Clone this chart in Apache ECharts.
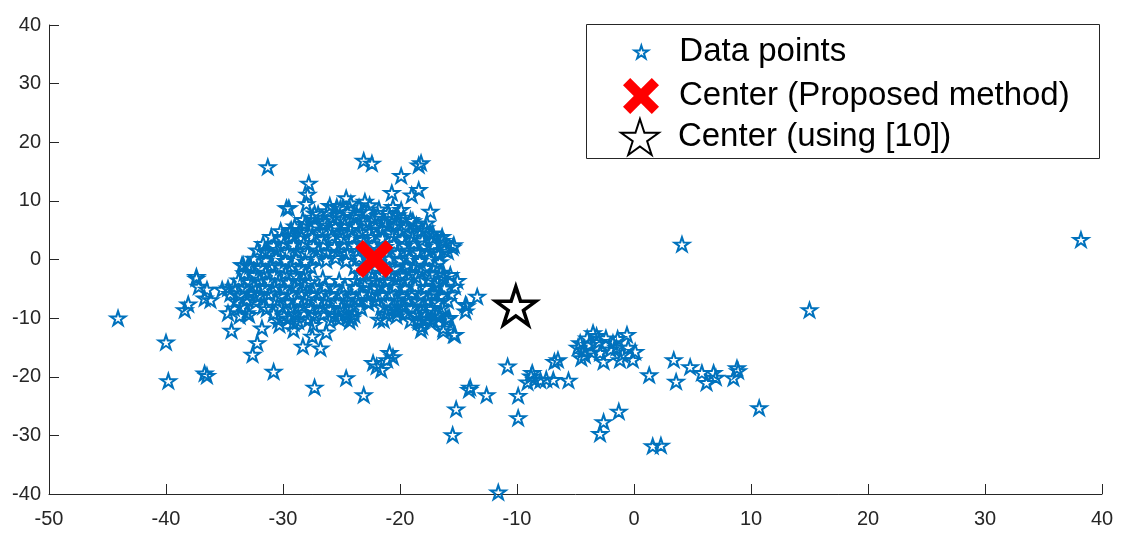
<!DOCTYPE html>
<html>
<head>
<meta charset="utf-8">
<script src="https://cdn.jsdelivr.net/npm/echarts@6/dist/echarts.min.js"></script>
<style>
  html, body { margin: 0; padding: 0; background: #fff; }
  #chart { width: 1128px; height: 538px; }
</style>
</head>
<body>
<div id="chart"></div>
<script>
// axis ranges / ticks
const xRange = [-50, 40];
const yRange = [-40, 40];
const tickStep = 10;

const seriesNames = ['Data points', 'Center (Proposed method)', 'Center (using [10])'];

// the two centers
const centerProposed = [[-22.2, 0.1]];
const centerRef = [[-10.1, -7.9]];

// scattered points around the main cluster
const sparsePoints = [
    [-44.1, -10.0], [-40.0, -14.1], [-39.8, -20.7], [-36.7, -19.4], [-36.5, -19.8], [-38.4, -8.6],
    [-38.1, -7.6], [-37.4, -3.2], [-37.2, -4.6], [-36.5, -5.1], [-36.7, -6.6], [-36.2, -6.9],
    [-35.2, -5.1], [-34.7, -4.9], [-34.2, -8.3], [-34.7, -9.1], [-34.4, -12.1], [-33.4, -0.9],
    [-33.1, -9.1], [-33.7, -9.6], [-32.2, -6.3], [-31.7, -8.0], [-31.8, -11.7], [-32.2, -14.2],
    [-32.6, -16.2], [-30.8, -19.1], [-30.3, -11.1], [-29.1, -10.8], [-29.1, -12.0], [-28.3, -14.8],
    [-27.5, -13.1], [-27.4, -11.1], [-26.8, -15.1], [-26.3, -12.4], [-27.3, -21.8], [-24.6, -20.2],
    [-23.1, -23.1], [-20.9, -15.9], [-21.1, -17.1], [-22.3, -17.6], [-21.6, -18.8], [-22.0, -18.2],
    [-20.6, -16.6], [-24.4, -9.7], [-21.4, -10.3], [-22.7, -7.4], [-20.3, -8.8], [-18.1, -11.4],
    [-18.4, -10.6], [-17.7, -10.1], [-16.3, -11.7], [-15.4, -12.8], [-16.6, -9.7], [-16.0, -10.3],
    [-15.9, -10.0], [-17.2, -10.3], [-18.2, -12.0],
    [-31.3, 15.8], [-29.7, 8.8], [-29.4, 4.8], [-31.6, 1.4], [-33.5, -0.9], [-33.0, -1.0],
    [-37.4, -2.9], [-27.8, 13.0], [-27.9, 11.1], [-28.0, 9.5], [-29.5, 8.8], [-24.6, 10.5],
    [-25.4, 9.0], [-27.3, 7.9],
    [-23.1, 16.9], [-22.4, 16.4], [-18.4, 16.1], [-18.2, 16.5], [-19.9, 14.3], [-20.7, 11.4],
    [-19.0, 11.0], [-18.4, 11.9], [-23.0, 9.9], [-20.6, 9.0], [-19.9, 8.5], [-17.4, 8.2],
    [-17.7, 6.2], [-16.4, 3.9], [-15.4, 2.5], [-16.2, 1.7], [-17.2, 4.5], [-19.1, 6.8],
    [-16.3, -2.6], [-16.7, 1.1],
    [-14.4, -7.7], [-13.4, -6.3], [-14.3, -7.9], [-14.4, -8.8], [-15.3, -12.8], [-15.8, -9.9],
    [-16.3, -12.2], [-18.6, -2.9], [-16.3, -3.2], [-17.0, -5.7], [-19.4, -0.9], [-21.7, -4.6],
    [-24.1, -10.0], [-20.1, -8.8],
    [-15.2, -25.5], [-15.5, -29.9], [-14.0, -21.8], [-14.1, -22.2], [-12.6, -23.1], [-11.6, -39.7],
    [-10.8, -18.2], [-9.9, -23.2], [-9.9, -27.0]
];

// right hand group
const rightPoints = [
    [-6.5, -17.1], [-6.8, -17.4], [-8.7, -19.3], [-9.1, -20.9], [-8.5, -20.5], [-8.8, -19.9],
    [-8.0, -20.6], [-7.5, -20.4], [-6.9, -20.5], [-5.6, -20.6],
    [-4.6, -14.2], [-3.5, -12.5], [-3.2, -13.0], [-4.0, -13.4], [-4.5, -16.8], [-4.3, -15.5],
    [-4.8, -15.0], [-3.8, -14.5], [-3.0, -14.0], [-2.6, -17.4], [-2.9, -15.9], [-2.4, -13.4],
    [-1.8, -14.2], [-2.0, -15.3], [-1.5, -15.0], [-0.6, -12.8], [-0.1, -17.1], [-1.2, -17.1],
    [-1.0, -16.2], [0.1, -15.7], [-0.5, -15.0], [-1.4, -13.5], [-4.2, -16.3], [-3.6, -15.8],
    [1.3, -19.7], [3.4, -17.1], [3.6, -20.8], [4.8, -18.3], [5.8, -19.3], [6.2, -21.0],
    [6.8, -19.3], [7.0, -20.1], [8.5, -20.2], [8.8, -18.5], [8.9, -19.0], [10.7, -25.3],
    [-1.3, -25.9], [-2.6, -27.7], [-2.9, -29.7], [1.6, -31.8], [2.3, -31.7],
    [4.1, 2.6], [15.0, -8.6], [38.2, 3.4]
];

// dense part of the main cluster
const densePoints = [
    [-26.0, 9.2], [-25.1, 8.7], [-24.2, 9.6], [-23.5, 8.9], [-22.6, 9.3], [-21.8, 8.6],
    [-27.0, 7.8], [-26.2, 8.3], [-25.4, 7.6], [-24.5, 8.1], [-23.7, 7.7], [-22.8, 8.2], [-21.9, 7.5], [-21.0, 8.0], [-20.2, 7.6],
    [-28.3, 6.8], [-27.5, 7.2], [-26.6, 6.6], [-25.8, 7.1], [-24.9, 6.9], [-24.0, 7.3], [-23.2, 6.7], [-22.3, 7.0],
    [-21.4, 6.5], [-20.6, 6.9], [-19.7, 7.2], [-18.9, 6.6],
    [-29.0, 5.7], [-28.1, 6.1], [-27.2, 5.8], [-26.4, 6.2], [-25.5, 5.6], [-24.7, 6.0], [-23.8, 5.7], [-22.9, 6.2],
    [-22.1, 5.5], [-21.2, 5.9], [-20.3, 6.1], [-19.5, 5.6], [-18.6, 5.9], [-17.8, 5.4],
    [-30.2, 4.9], [-29.3, 5.1], [-28.5, 4.7], [-27.6, 5.2], [-26.8, 4.8], [-25.9, 5.0], [-25.1, 4.6], [-24.2, 5.1],
    [-23.4, 4.7], [-22.5, 4.9], [-21.6, 5.2], [-20.8, 4.6], [-19.9, 4.9], [-19.1, 4.5], [-18.2, 5.0], [-17.4, 4.4],
    [-31.0, 3.9], [-30.1, 3.6], [-29.2, 4.1], [-28.4, 3.7], [-27.5, 3.9], [-26.6, 3.5], [-25.8, 4.0], [-24.9, 3.6],
    [-24.1, 3.8], [-23.2, 3.4], [-22.4, 3.9], [-21.5, 3.6], [-20.6, 4.0], [-19.8, 3.5], [-18.9, 3.8], [-18.1, 3.3],
    [-17.2, 3.7], [-16.4, 3.2],
    [-31.7, 2.7], [-30.8, 2.4], [-29.9, 2.8], [-29.1, 2.5], [-28.2, 2.9], [-27.4, 2.3], [-26.5, 2.6], [-25.6, 2.2],
    [-24.8, 2.7], [-23.9, 2.4], [-23.1, 2.8], [-22.2, 2.5], [-21.3, 2.2], [-20.5, 2.7], [-19.6, 2.4], [-18.8, 2.8],
    [-17.9, 2.3], [-17.1, 2.6], [-16.2, 2.9], [-15.5, 2.1],
    [-32.2, 1.6], [-31.3, 1.2], [-30.5, 1.7], [-29.6, 1.3], [-28.8, 1.5], [-27.9, 1.1], [-27.0, 1.6], [-26.2, 1.2],
    [-25.3, 1.4], [-24.5, 1.0], [-23.6, 1.5], [-22.7, 1.2], [-21.9, 1.7], [-21.0, 1.3], [-20.2, 1.1], [-19.3, 1.6],
    [-18.4, 1.2], [-17.6, 1.5], [-16.7, 0.9], [-15.9, 1.4],
    [-32.5, 0.2], [-31.5, -0.1], [-30.6, 0.3], [-29.8, -0.2], [-28.9, 0.1], [-28.1, -0.3], [-27.2, 0.2], [-26.3, -0.1],
    [-25.5, 0.3], [-24.6, -0.2], [-23.5, 0.4], [-22.0, -0.3], [-20.9, 0.2], [-20.0, -0.1], [-19.2, 0.3], [-18.3, -0.2],
    [-17.5, 0.1], [-16.6, -0.4],
    [-32.8, -1.1], [-31.9, -1.4], [-31.0, -1.0], [-30.2, -1.3], [-29.3, -1.1], [-28.5, -1.5], [-27.6, -1.2], [-23.9, -1.3],
    [-23.0, -1.0], [-22.1, -1.4], [-21.3, -1.1], [-20.4, -1.5], [-19.5, -1.2], [-18.7, -1.0], [-17.8, -1.4], [-17.0, -1.1],
    [-33.3, -2.3], [-32.4, -2.6], [-31.5, -2.2], [-30.7, -2.5], [-29.8, -2.3], [-28.9, -2.7], [-28.1, -2.4], [-23.4, -2.5],
    [-22.5, -2.2], [-21.7, -2.6], [-20.8, -2.3], [-19.9, -2.7], [-19.1, -2.4], [-18.2, -2.1], [-17.4, -2.5], [-16.5, -2.2],
    [-15.7, -2.6],
    [-33.8, -3.5], [-32.9, -3.8], [-32.0, -3.4], [-31.2, -3.7], [-30.3, -3.5], [-29.5, -3.9], [-28.6, -3.6], [-27.7, -3.8],
    [-26.6, -3.2], [-25.2, -3.6],
    [-23.8, -3.6], [-22.9, -3.9], [-22.1, -3.5], [-21.2, -3.8], [-20.3, -3.4], [-19.5, -3.7], [-17.5, -3.5], [-16.8, -3.9],
    [-15.1, -3.6],
    [-34.2, -4.6], [-33.3, -4.9], [-32.5, -4.5], [-31.6, -4.8], [-30.7, -4.6], [-29.9, -5.0], [-29.0, -4.7], [-28.1, -4.4],
    [-27.3, -4.8], [-26.4, -4.5], [-25.6, -4.9], [-24.7, -4.6], [-23.8, -4.8], [-23.0, -4.4], [-22.1, -4.9], [-21.3, -4.7],
    [-20.4, -4.5], [-19.6, -4.9], [-18.7, -4.6], [-17.8, -4.8], [-17.0, -4.4], [-16.2, -4.9], [-15.3, -4.6],
    [-34.5, -5.8], [-33.7, -6.1], [-32.8, -5.7], [-31.9, -6.0], [-31.1, -5.8], [-30.2, -6.2], [-29.4, -5.9], [-28.5, -5.6],
    [-27.6, -6.0], [-26.8, -5.7], [-25.9, -6.1], [-25.1, -5.8], [-24.2, -6.2], [-23.3, -5.9], [-22.5, -5.6], [-21.6, -6.0],
    [-20.8, -5.8], [-19.9, -6.2], [-19.0, -5.7], [-18.2, -6.1], [-17.3, -5.8], [-16.5, -6.2], [-15.6, -5.9],
    [-34.0, -7.1], [-33.1, -6.8], [-32.3, -7.2], [-30.6, -6.9], [-29.7, -7.3], [-28.8, -7.0], [-28.0, -6.7], [-27.1, -7.2],
    [-26.3, -6.9], [-25.4, -7.3], [-24.5, -7.0], [-23.7, -6.8], [-22.8, -7.2], [-22.0, -6.9], [-21.1, -7.3], [-20.2, -7.0],
    [-19.4, -6.7], [-18.5, -7.1], [-17.7, -6.9], [-16.8, -7.3], [-15.9, -7.0],
    [-33.5, -8.1], [-31.4, -8.4], [-30.2, -8.0], [-29.3, -8.3], [-28.4, -7.9], [-27.6, -8.4], [-26.7, -8.1], [-25.9, -8.5],
    [-25.0, -8.2], [-24.1, -7.9], [-23.3, -8.3], [-21.6, -8.1], [-20.7, -8.4], [-19.8, -8.0], [-19.0, -8.3], [-18.1, -7.9],
    [-17.3, -8.4], [-16.4, -8.2],
    [-32.9, -9.4], [-30.8, -9.2], [-29.9, -9.6], [-29.0, -9.3], [-28.2, -9.0], [-27.3, -9.5], [-26.5, -9.2], [-25.6, -9.6],
    [-24.7, -9.1], [-23.9, -9.4], [-21.2, -9.3], [-20.3, -9.6], [-19.5, -9.1], [-18.6, -9.4], [-17.8, -9.0], [-16.9, -9.5],
    [-30.4, -10.3], [-29.5, -10.0], [-28.7, -10.5], [-27.8, -10.2], [-26.0, -10.4], [-25.2, -10.1], [-24.3, -10.5],
    [-21.8, -10.2], [-19.1, -10.4], [-18.2, -10.1], [-17.4, -10.6]
];

const dataPoints = densePoints.concat(sparsePoints, rightPoints);

// marker shapes (MATLAB style pentagram and thick x)
const starPath = 'path://M50 0 L61.23 34.55 L97.55 34.55 L68.16 55.9 L79.39 90.45 L50 69.1 L20.61 90.45 L31.84 55.9 L2.45 34.55 L38.77 34.55 Z';
const crossPath = 'path://M0 20 L20 0 L50 30 L80 0 L100 20 L70 50 L100 80 L80 100 L50 70 L20 100 L0 80 L30 50 Z';

const blue = '#0072BD';
const axisColor = '#262626';
const fontFamily = '"Liberation Sans", Arial, Helvetica, sans-serif';

const chart = echarts.init(document.getElementById('chart'), null, { renderer: 'canvas' });

// legend boxes are positioned by the drawn icon's left edge,
// every icon is centred at x=641 and the text starts at x=679
const legendBase = {
    orient: 'vertical',
    itemWidth: 66,
    padding: 0,
    itemGap: 0,
    selectedMode: false,
    textStyle: { fontSize: 33, color: '#000', fontFamily: fontFamily, lineHeight: 36 }
};

const option = {
    animation: false,
    backgroundColor: '#fff',
    grid: { left: 49, right: 26, top: 25, bottom: 44, containLabel: false },
    xAxis: {
        type: 'value',
        min: xRange[0],
        max: xRange[1],
        interval: tickStep,
        axisLine: { show: true, onZero: false, lineStyle: { color: axisColor, width: 1 } },
        axisTick: { show: true, inside: true, length: 10, lineStyle: { color: axisColor } },
        axisLabel: { color: axisColor, fontSize: 20, fontFamily: fontFamily, margin: 15 },
        splitLine: { show: false }
    },
    yAxis: {
        type: 'value',
        min: yRange[0],
        max: yRange[1],
        interval: tickStep,
        axisLine: { show: true, onZero: false, lineStyle: { color: axisColor, width: 1 } },
        axisTick: { show: true, inside: true, length: 10, lineStyle: { color: axisColor } },
        axisLabel: { color: axisColor, fontSize: 20, fontFamily: fontFamily, margin: 8 },
        splitLine: { show: false }
    },
    legend: [
        Object.assign({}, legendBase, { data: [seriesNames[0]], left: 633.5, top: 34, itemHeight: 13 }),
        Object.assign({}, legendBase, { data: [seriesNames[1]], left: 623, top: 78, itemHeight: 36 }),
        Object.assign({}, legendBase, { data: [seriesNames[2]], left: 620, top: 118, itemHeight: 36 })
    ],
    graphic: [{
        type: 'rect',
        shape: { x: 586.5, y: 24.5, width: 513, height: 134 },
        style: { fill: '#fff', stroke: axisColor, lineWidth: 1 },
        z: 0
    }],
    series: [
        {
            name: seriesNames[0],
            type: 'scatter',
            data: dataPoints,
            symbol: starPath,
            symbolSize: [15, 14],
            itemStyle: { color: 'rgba(255,255,255,0)', borderColor: blue, borderWidth: 2, opacity: 1 },
            z: 2
        },
        {
            name: seriesNames[1],
            type: 'scatter',
            data: centerProposed,
            symbol: crossPath,
            symbolSize: 38,
            itemStyle: { color: '#FF0000', opacity: 1 },
            z: 3
        },
        {
            name: seriesNames[2],
            type: 'scatter',
            data: centerRef,
            symbol: starPath,
            symbolSize: [40, 38],
            itemStyle: { color: '#fff', borderColor: '#000', borderWidth: 3.5, opacity: 1 },
            z: 4
        }
    ]
};

chart.setOption(option);
</script>
</body>
</html>
